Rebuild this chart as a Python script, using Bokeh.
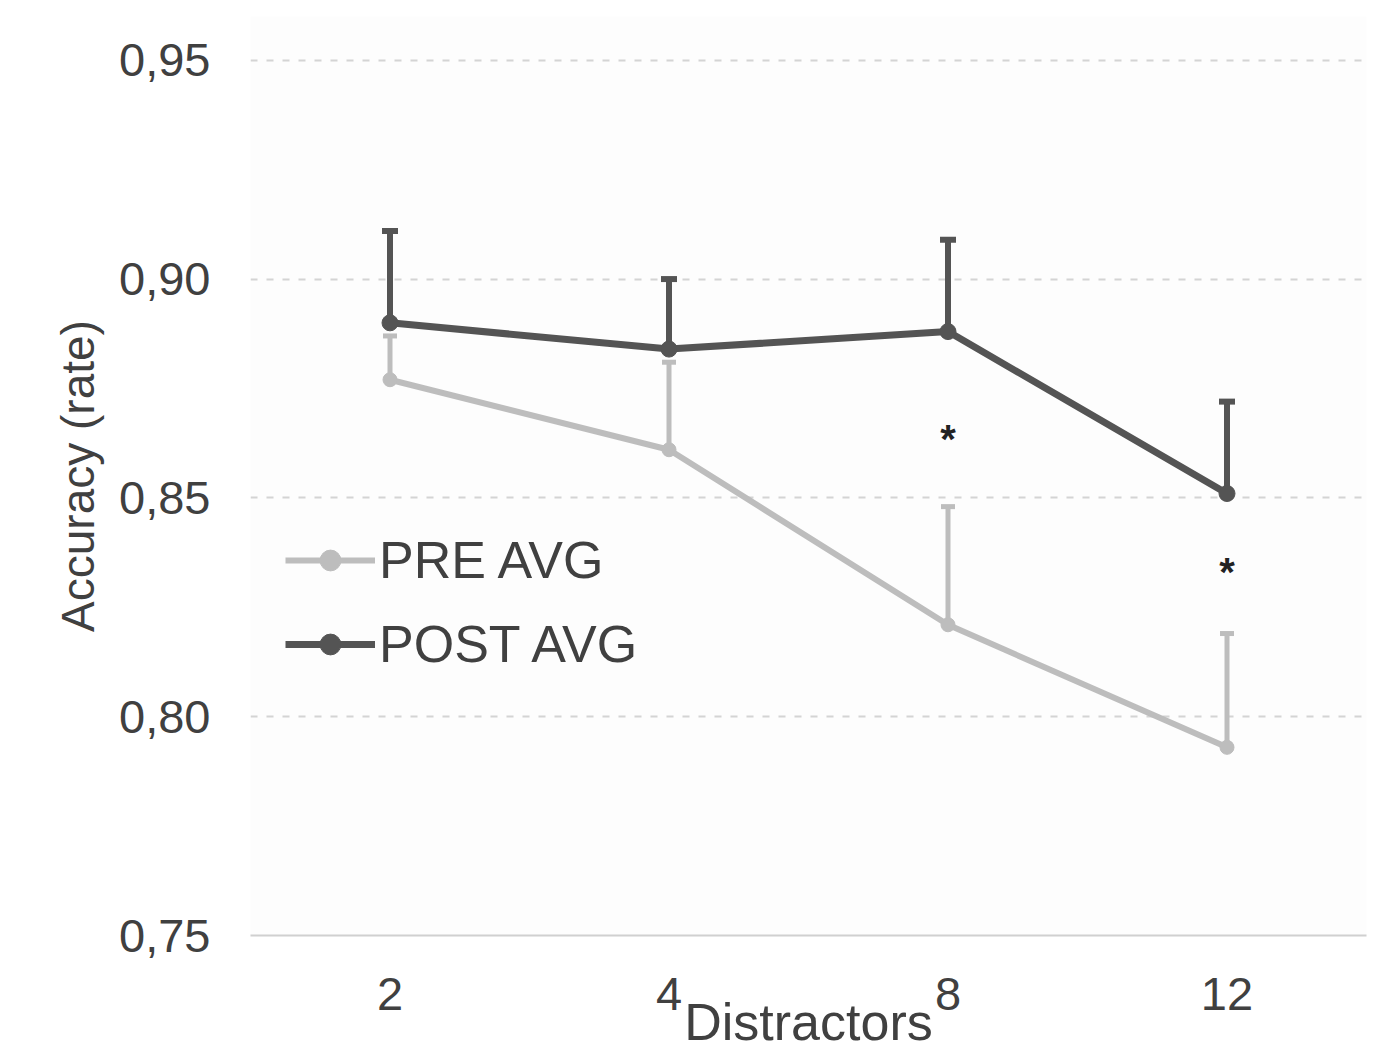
from bokeh.plotting import figure
from bokeh.models import ColumnDataSource, Whisker, TeeHead, FactorRange, Range1d, FixedTicker, CustomJSTickFormatter, Legend, LegendItem
from bokeh.core.properties import value
from bokeh.embed import file_html
from bokeh.resources import INLINE

# ---- data ----
distractors = ["2", "4", "8", "12"]
pre_avg = [0.877, 0.861, 0.821, 0.793]
pre_upper = [0.887, 0.881, 0.848, 0.819]
post_avg = [0.890, 0.884, 0.888, 0.851]
post_upper = [0.911, 0.900, 0.909, 0.872]
sig_x = ["8", "12"]
sig_y = [0.8635, 0.833]
y_ticks = [0.75, 0.80, 0.85, 0.90, 0.95]
x_title = "Distractors"
y_title = "Accuracy (rate)"

FONT = "Liberation Sans"

p = figure(width=1375, height=1053, x_range=FactorRange(*distractors, range_padding=0),
           y_range=Range1d(0.75, 0.96), output_backend="svg", toolbar_location=None,
           min_border_left=250, min_border_right=9, min_border_top=16, min_border_bottom=118)
p.outline_line_color = None
p.background_fill_color = "#fdfdfd"
p.border_fill_color = "#ffffff"

# grid
p.xgrid.grid_line_color = None
p.ygrid.ticker = FixedTicker(ticks=y_ticks[1:])
p.ygrid.grid_line_color = "#d4d4d4"
p.ygrid.grid_line_width = 2
p.ygrid.grid_line_dash = "7 9"

# axes
p.yaxis.ticker = FixedTicker(ticks=y_ticks)
p.yaxis.formatter = CustomJSTickFormatter(code="return tick.toFixed(2).replace('.', ',');")
p.yaxis.axis_line_color = None
p.yaxis.major_tick_line_color = None
p.yaxis.minor_tick_line_color = None
p.yaxis.major_label_text_font = FONT
p.yaxis.major_label_text_font_size = "47px"
p.yaxis.major_label_text_color = "#404040"
p.yaxis.major_label_standoff = 34
p.yaxis.axis_label = y_title
p.yaxis.axis_label_text_font = FONT
p.yaxis.axis_label_text_font_size = "46px"
p.yaxis.axis_label_text_font_style = "normal"
p.yaxis.axis_label_text_color = "#404040"
p.yaxis.axis_label_standoff = 12

p.xaxis.axis_line_color = "#d0d0d0"
p.xaxis.axis_line_width = 2
p.xaxis.major_tick_line_color = None
p.xaxis.minor_tick_line_color = None
p.xaxis.major_tick_out = 0
p.xaxis.major_tick_in = 0
p.xaxis.minor_tick_out = 0
p.xaxis.major_label_text_font = FONT
p.xaxis.major_label_text_font_size = "47px"
p.xaxis.major_label_text_color = "#404040"
p.xaxis.major_label_standoff = 42
p.xaxis.axis_label = x_title
p.xaxis.axis_label_text_font = FONT
p.xaxis.axis_label_text_font_size = "52px"
p.xaxis.axis_label_text_font_style = "normal"
p.xaxis.axis_label_text_color = "#404040"
p.xaxis.axis_label_standoff = -20

src = ColumnDataSource(dict(x=distractors, pre=pre_avg, pre_up=pre_upper,
                            post=post_avg, post_up=post_upper))

PRE_C = "#bdbdbd"
POST_C = "#545454"

# error bars (upper only)
p.add_layout(Whisker(source=src, base="x", lower="pre", upper="pre_up",
                     line_color=PRE_C, line_width=5, lower_head=None,
                     upper_head=TeeHead(size=14, line_color=PRE_C, line_width=5)))
p.add_layout(Whisker(source=src, base="x", lower="post", upper="post_up",
                     line_color=POST_C, line_width=6, lower_head=None,
                     upper_head=TeeHead(size=16, line_color=POST_C, line_width=6)))

pre_l = p.line("x", "pre", source=src, line_color=PRE_C, line_width=6)
pre_m = p.scatter("x", "pre", source=src, size=14, color=PRE_C)
post_l = p.line("x", "post", source=src, line_color=POST_C, line_width=7)
post_m = p.scatter("x", "post", source=src, size=16, color=POST_C)

p.text(x=sig_x, y=sig_y, text=["*", "*"], text_font=value(FONT), text_font_size="40px",
       text_font_style="bold", text_color="#222222", text_align="center", text_baseline="middle")

legend = Legend(items=[LegendItem(label="PRE AVG", renderers=[pre_l, pre_m]),
                       LegendItem(label="POST AVG", renderers=[post_l, post_m])],
                location=(35, 261), orientation="vertical")
legend.background_fill_alpha = 0
legend.border_line_color = None
legend.padding = 0
legend.margin = 0
legend.glyph_width = 90
legend.glyph_height = 52
legend.label_height = 52
legend.spacing = 24
legend.label_standoff = 4
legend.label_text_font = FONT
legend.label_text_font_size = "52px"
legend.label_text_color = "#404040"
p.add_layout(legend)

open("out.html", "w").write(file_html(p, INLINE))
